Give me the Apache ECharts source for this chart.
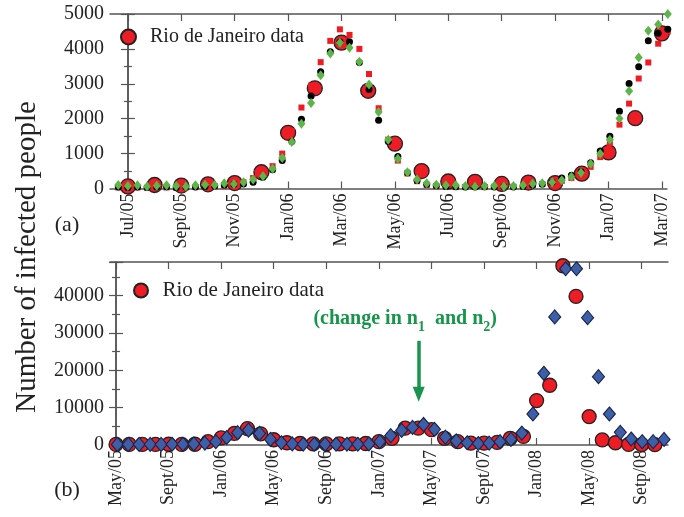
<!DOCTYPE html>
<html><head><meta charset="utf-8">
<script src="https://cdn.jsdelivr.net/npm/echarts@6/dist/echarts.min.js"></script>
<style>html,body{margin:0;padding:0;background:#fff}#c{width:684px;height:517px}</style>
</head><body><div id="c"></div>
<script>
// ---------- Panel (a): months counted from Jul/05 = 0 ----------
const topTickMonths = [0, 2, 4, 6, 8, 10, 12, 14, 16, 18, 20];
const topTickLabels = ['Jul/05','Sept/05','Nov/05','Jan/06','Mar/06','May/06','Jul/06','Sept/06','Nov/06','Jan/07','Mar/07'];
const rioMonthsA = [0,1,2,3,4,5,6,7,8,9,10,11,12,13,14,15,16,17,18,19,20];
const rioA = [60,100,85,120,155,465,1595,2870,4180,2800,1285,500,200,190,130,170,155,425,1035,2015,4445];
const modelMonthsA = [-0.36,0.00,0.36,0.72,1.08,1.45,1.81,2.17,2.53,2.89,3.25,3.61,3.97,4.33,4.69,5.06,5.42,5.78,6.14,6.50,
  6.86,7.22,7.58,7.94,8.30,8.67,9.03,9.39,9.75,10.11,10.47,10.83,11.19,11.55,11.91,12.28,12.64,13.00,13.36,13.72,
  14.08,14.44,14.80,15.16,15.52,15.89,16.25,16.61,16.97,17.33,17.69,18.05,18.41,18.77,19.13,19.49,19.86,20.22];
const greenA = [100,70,90,60,80,90,70,60,90,110,100,150,130,180,260,354,566,871,1331,1858,
  2452,3247,3870,4176,4033,3630,2979,2193,1399,853,468,259,152,105,90,90,70,60,70,80,
  60,70,90,133,152,181,239,335,449,710,997,1399,2003,2796,3755,4520,4700,5000];
const blackA = [40,30,40,30,40,50,30,40,40,60,70,100,120,130,181,325,540,805,1350,1983,
  2653,3343,3918,4200,4205,3611,2835,1954,1350,920,450,230,120,80,60,50,40,40,50,40,
  50,40,60,100,120,180,300,380,480,741,1073,1494,2213,3008,3487,4233,4450,4560];
const squareA = [30,20,30,20,30,30,20,30,40,50,60,80,110,180,300,430,640,1000,1650,2320,
  2950,3620,4230,4560,4400,4000,3280,2300,1400,800,430,210,100,60,50,40,40,50,40,50,
  40,50,60,100,130,170,220,300,420,620,900,1300,1830,2433,3151,3611,4150,4500];

// ---------- Panel (b): months counted from May/05 = 0 ----------
const botTickMonths = [0,4,8,12,16,20,24,28,32,36,40];
const botTickLabels = ['May/05','Sept/05','Jan/06','May/06','Setp/06','Jan/07','May/07','Sept/07','Jan/08','May/08','Setp/08'];
const rioMonthsB = [0,1,2,3,4,5,6,7,8,9,10,11,12,13,14,15,16,17,18,19,20,21,22,23,24,25,26,27,28,29,30,31,32,33,34,35,36,37,38,39,40,41];
const rioB = [150,150,150,150,200,150,200,900,1900,3100,4400,3000,1400,600,400,300,300,300,300,400,
  900,1800,4500,4500,4100,1800,900,500,500,700,1800,2300,11900,16000,48000,39800,7600,1350,600,150,100,100];
const modelMonthsB = [0.10,0.93,1.76,2.60,3.43,4.26,5.09,5.92,6.76,7.59,8.42,9.25,10.08,10.92,11.75,12.58,13.41,14.24,15.08,15.91,
  16.74,17.57,18.40,19.24,20.07,20.90,21.73,22.56,23.40,24.23,25.06,25.89,26.72,27.56,28.39,29.22,30.05,30.88,31.72,32.55,
  33.38,34.21,35.04,35.88,36.71,37.54,38.37,39.20,40.04,40.87,41.70];
const blueB = [150,150,150,150,150,200,200,300,500,900,2000,3300,4000,3100,1500,600,300,200,200,200,
  200,200,200,300,900,2500,3900,4700,5500,4200,2100,1100,600,400,500,900,1500,3200,8300,19200,
  34300,47200,47200,34100,18300,8300,3400,1600,900,900,1500];

const FONT = 'Liberation Serif';
const GREEN_TXT = '#17954a';
const FRAME = '#555';
const zip = (xs, ys) => xs.map((x, i) => [x, ys[i]]);

const chart = echarts.init(document.getElementById('c'), null, {renderer: 'canvas'});

function xAx(gridIndex, pos, min, max, ticks, labels, showLabel) {
  return {
    type: 'value', gridIndex, position: pos, min, max,
    axisLine: {show: true, onZero: false, lineStyle: {color: FRAME, width: 1.5}},
    axisTick: {show: true, inside: true, length: 7, customValues: ticks, lineStyle: {color: FRAME, width: 1.2}},
    axisLabel: {show: showLabel, customValues: ticks, rotate: 90, margin: 5, fontFamily: FONT, fontSize: 18, color: '#222',
      formatter: v => labels[ticks.indexOf(v)] || ''},
    splitLine: {show: false}
  };
}
function yAx(gridIndex, pos, max, interval, showLabel) {
  return {
    type: 'value', gridIndex, position: pos, min: 0, max, interval,
    axisLine: {show: true, lineStyle: {color: FRAME, width: 1.5}},
    axisTick: {show: true, inside: true, length: 7, lineStyle: {color: FRAME, width: 1.2}},
    minorTick: {show: true, splitNumber: 2, length: 4, lineStyle: {color: FRAME, width: 1.2}},
    axisLabel: {show: showLabel, margin: 6, fontFamily: FONT, fontSize: 20, color: '#222',
      formatter: v => (v % interval === 0 ? String(v) : '')},
    splitLine: {show: false}, minorSplitLine: {show: false}
  };
}

const option = {
  backgroundColor: '#fff',
  animation: false,
  grid: [
    {left: 110, right: 17, top: 14, height: 174.5},
    {left: 110, right: 16, top: 262, height: 183}
  ],
  xAxis: [
    xAx(0, 'bottom', -0.67, 20.19, topTickMonths, topTickLabels, true),
    xAx(0, 'top', -0.67, 20.19, topTickMonths, topTickLabels, false),
    xAx(1, 'bottom', -0.46, 42.0, botTickMonths, botTickLabels, true),
    xAx(1, 'top', -0.46, 42.0, botTickMonths, botTickLabels, false)
  ],
  yAxis: [
    yAx(0, 'left', 5000, 1000, true),
    yAx(0, 'right', 5000, 1000, false),
    yAx(1, 'left', 49000, 10000, true),
    yAx(1, 'right', 49000, 10000, false)
  ],
  legend: [
    {data: ['Rio de Janeiro data'], left: 115, top: 22, icon: 'circle', itemWidth: 33, itemHeight: 15,
      textStyle: {fontFamily: FONT, fontSize: 20, color: '#222'}, selectedMode: false},
    {data: ['Rio de Janeiro data'], left: 128, top: 275, icon: 'circle', itemWidth: 33, itemHeight: 14,
      textStyle: {fontFamily: FONT, fontSize: 21, color: '#222'}, selectedMode: false}
  ],
  series: [
    {name: 'Rio de Janeiro data', type: 'scatter', xAxisIndex: 0, yAxisIndex: 0, z: 2, clip: false,
      symbol: 'circle', symbolSize: 15, data: zip(rioMonthsA, rioA),
      itemStyle: {color: '#ee1c24', borderColor: '#222', borderWidth: 1.3, opacity: 1}},
    {name: 'model squares', type: 'scatter', xAxisIndex: 0, yAxisIndex: 0, z: 3, clip: false,
      symbol: 'rect', symbolSize: 6, data: zip(modelMonthsA, squareA),
      itemStyle: {color: '#f01a22', opacity: 1}},
    {name: 'model black', type: 'scatter', xAxisIndex: 0, yAxisIndex: 0, z: 4, clip: false,
      symbol: 'circle', symbolSize: 7, data: zip(modelMonthsA, blackA),
      itemStyle: {color: '#000', opacity: 1}},
    {name: 'model green', type: 'scatter', xAxisIndex: 0, yAxisIndex: 0, z: 5, clip: false,
      symbol: 'diamond', symbolSize: [8, 10], data: zip(modelMonthsA, greenA),
      itemStyle: {color: '#5db54a', opacity: 1}},
    {name: 'Rio de Janeiro data', type: 'scatter', xAxisIndex: 2, yAxisIndex: 2, z: 2, clip: false,
      symbol: 'circle', symbolSize: 14, data: zip(rioMonthsB, rioB),
      itemStyle: {color: '#ee1c24', borderColor: '#222', borderWidth: 1.3, opacity: 1}},
    {name: 'model blue', type: 'scatter', xAxisIndex: 2, yAxisIndex: 2, z: 3, clip: false,
      symbol: 'diamond', symbolSize: [12, 14], data: zip(modelMonthsB, blueB),
      itemStyle: {color: '#3d5fa8', borderColor: '#1a2248', borderWidth: 1.1, opacity: 1},
      markLine: {silent: true, symbol: ['none', 'triangle'], symbolSize: [12, 15],
        lineStyle: {color: GREEN_TXT, width: 3.5, type: 'solid'}, label: {show: false},
        data: [[{coord: [23.03, 27900]}, {coord: [23.03, 13600]}]]},
      markPoint: {silent: true, symbol: 'circle', symbolSize: 0,
        data: [{coord: [22.0, 33500]}],
        label: {show: true, position: 'inside',
          formatter: '{m|(change in n}{s|1}{m|  and n}{s|2}{m|)}',
          rich: {
            m: {fontFamily: FONT, fontSize: 20, fontWeight: 'bold', color: GREEN_TXT, lineHeight: 22, verticalAlign: 'top'},
            s: {fontFamily: FONT, fontSize: 14, fontWeight: 'bold', color: GREEN_TXT, lineHeight: 14, padding: [12, 0, 0, 0], verticalAlign: 'top'}
          }}}}
  ],
  graphic: [
    {type: 'text', x: 27, y: 257, rotation: Math.PI / 2,
      style: {text: 'Number of infected people', font: '29px "Liberation Serif"', fill: '#222', align: 'center', verticalAlign: 'middle'}},
    {type: 'text', x: 67, y: 225,
      style: {text: '(a)', font: '22px "Liberation Serif"', fill: '#222', align: 'center', verticalAlign: 'middle'}},
    {type: 'text', x: 67, y: 490,
      style: {text: '(b)', font: '22px "Liberation Serif"', fill: '#222', align: 'center', verticalAlign: 'middle'}}
  ]
};
chart.setOption(option);
</script></body></html>
